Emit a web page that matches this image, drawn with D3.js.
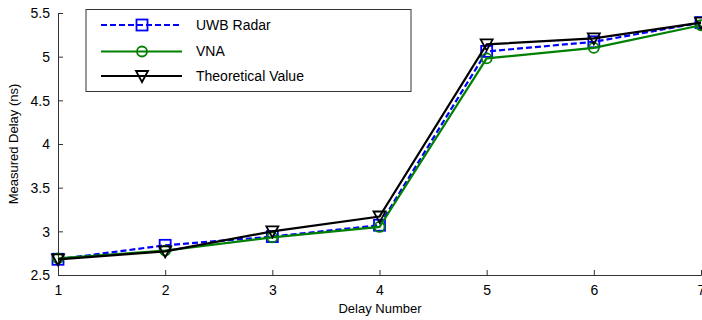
<!DOCTYPE html>
<html>
<head>
<meta charset="utf-8">
<script src="https://cdn.jsdelivr.net/npm/d3@7"></script>
<style>
  body { margin: 0; background: #fff; }
  svg { display: block; font-family: "Liberation Sans", Arial, sans-serif; }
</style>
</head>
<body>
<svg id="chart" width="702" height="320"></svg>
<script>
// delay index on the x axis
const delays = [1, 2, 3, 4, 5, 6, 7];
const uwbRadar = [2.68, 2.84, 2.94, 3.07, 5.06, 5.17, 5.39];
const vna = [2.69, 2.78, 2.93, 3.05, 4.98, 5.10, 5.36];
const theoretical = [2.68, 2.77, 3.00, 3.17, 5.14, 5.21, 5.39];
const yTicks = [2.5, 3, 3.5, 4, 4.5, 5, 5.5];

const series = [
  { name: 'UWB Radar', values: uwbRadar, color: '#0000ff', dash: '6,3', marker: 'square' },
  { name: 'VNA', values: vna, color: '#008000', dash: null, marker: 'circle' },
  { name: 'Theoretical Value', values: theoretical, color: '#000000', dash: null, marker: 'triangle' }
];

const svg = d3.select('#chart');
const margin = { left: 58, top: 13, right: 1, bottom: 45 };
const width = 702 - margin.left - margin.right;
const height = 320 - margin.top - margin.bottom;

const g = svg.append('g').attr('transform', `translate(${margin.left},${margin.top})`);

const x = d3.scaleLinear().domain([1, 7]).range([0, width]);
const y = d3.scaleLinear().domain([2.5, 5.5]).range([height, 0]);

// axes, matlab style: ticks inside
const xAxis = g.append('g')
  .attr('transform', `translate(0,${height})`)
  .call(d3.axisBottom(x).tickValues(delays).tickFormat(d3.format('d')).tickSize(-5).tickPadding(10));
const yAxis = g.append('g')
  .call(d3.axisLeft(y).tickValues(yTicks).tickFormat(d => d).tickSize(-5).tickPadding(8));

[xAxis, yAxis].forEach(a => {
  a.select('.domain').attr('stroke', '#333').attr('stroke-width', 1);
  a.selectAll('.tick line').attr('stroke', '#333');
  a.selectAll('.tick text').attr('font-size', 14).attr('fill', '#000')
    .attr('font-family', '"Liberation Sans", Arial, sans-serif');
});
yAxis.selectAll('.tick text').attr('dy', '0.35em');

svg.append('text')
  .attr('x', margin.left + 322)
  .attr('y', 313)
  .attr('text-anchor', 'middle')
  .attr('font-size', 13)
  .text('Delay Number');

svg.append('text')
  .attr('transform', `translate(18,${margin.top + height / 2}) rotate(-90)`)
  .attr('text-anchor', 'middle')
  .attr('font-size', 13)
  .text('Measured Delay (ns)');

function drawMarker(sel, type, color) {
  if (type === 'square') {
    sel.append('rect').attr('x', -5.5).attr('y', -5.5).attr('width', 11).attr('height', 11)
      .attr('fill', 'none').attr('stroke', color).attr('stroke-width', 1.8);
  } else if (type === 'circle') {
    sel.append('circle').attr('r', 5).attr('fill', 'none')
      .attr('stroke', color).attr('stroke-width', 1.8);
  } else {
    sel.append('path').attr('d', 'M-6,-5L6,-5L0,6Z').attr('fill', 'none')
      .attr('stroke', color).attr('stroke-width', 1.8);
  }
}

const line = d3.line().x((d, i) => x(delays[i])).y(d => y(d));

series.forEach(s => {
  g.append('path')
    .datum(s.values)
    .attr('fill', 'none')
    .attr('stroke', s.color)
    .attr('stroke-width', 2.2)
    .attr('stroke-dasharray', s.dash)
    .attr('d', line);
  s.values.forEach((v, i) => {
    const m = g.append('g').attr('transform', `translate(${x(delays[i])},${y(v)})`);
    drawMarker(m, s.marker, s.color);
  });
});

// legend
const legend = svg.append('g').attr('transform', 'translate(86,9.5)');
legend.append('rect').attr('width', 325).attr('height', 82)
  .attr('fill', '#fff').attr('stroke', '#333').attr('stroke-width', 1);
const rowY = [15.5, 42, 66.5];
series.forEach((s, i) => {
  const row = legend.append('g').attr('transform', `translate(0,${rowY[i]})`);
  row.append('line').attr('x1', 15).attr('x2', 96).attr('y1', 0).attr('y2', 0)
    .attr('stroke', s.color).attr('stroke-width', 2.2).attr('stroke-dasharray', s.dash);
  const m = row.append('g').attr('transform', 'translate(56,0)');
  drawMarker(m, s.marker, s.color);
  row.append('text').attr('x', 110).attr('y', 0).attr('dy', '0.35em')
    .attr('font-size', 14).text(s.name);
});
</script>
</body>
</html>
